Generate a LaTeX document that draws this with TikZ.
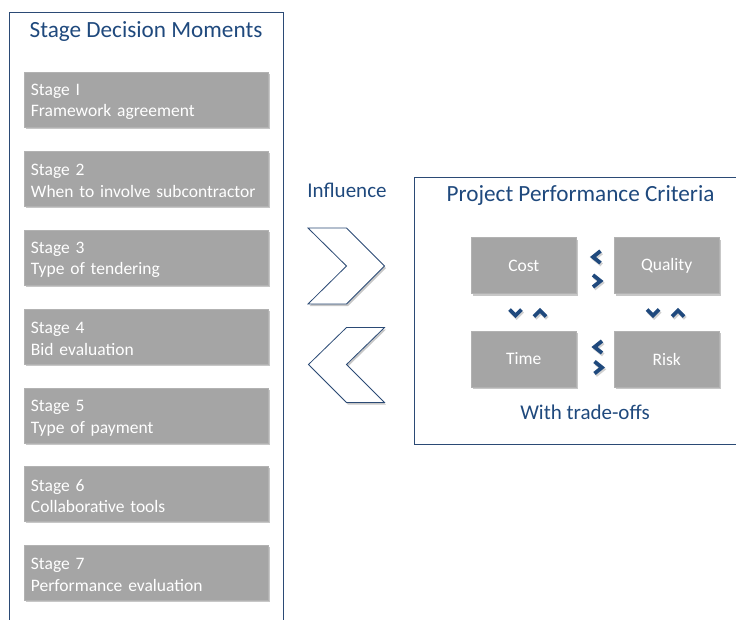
\documentclass[tikz,border=0pt]{standalone}
\usepackage{fontspec}
\setmainfont{Carlito}
\usetikzlibrary{shadows}
\definecolor{navy}{HTML}{1F497D}
\definecolor{framecol}{HTML}{2B4A75}
\definecolor{boxgray}{HTML}{A5A5A5}
\begin{document}
\begin{tikzpicture}[x=1pt,y=-1pt,
  softshadow/.style={drop shadow={shadow xshift=1.5pt, shadow yshift=-2pt, opacity=0.22, fill=black}},
  stagebox/.style={fill=boxgray, draw=boxgray!85!white, line width=0.5pt,
    minimum width=244pt, minimum height=55pt, inner sep=0pt, softshadow},
  stagetext/.style={anchor=west, text width=230pt, align=left, inner xsep=7pt, inner ysep=0pt,
    text=white, font=\fontsize{17.5}{21.5}\selectfont},
  critbox/.style={fill=boxgray, draw=boxgray!85!white, line width=0.5pt,
    minimum width=105pt, minimum height=56pt, text=white,
    font=\fontsize{17.5}{20}\selectfont, softshadow},
  titletext/.style={text=navy, font=\fontsize{23.2}{27}\selectfont, inner sep=0pt},
  labeltext/.style={text=navy, font=\fontsize{21}{25}\selectfont, inner sep=0pt},
  framestyle/.style={draw=framecol, line width=0.8pt},
  bigchev/.style={draw=framecol, fill=white, line width=0.8pt, line join=miter, softshadow},
  smallchev/.style={draw=navy, line width=3.8pt, line join=miter, line cap=butt},
  chevshadow/.style={draw=black, opacity=0.18, line width=3.8pt, line join=miter, line cap=butt}
]
\useasboundingbox (0,0) rectangle (736,619);
\clip (0,0) rectangle (736,619);

% left frame
\draw[framestyle] (9,630) -- (9,12) -- (283,12) -- (283,630);
\node[titletext] (ltitle) at (146,32) {Stage Decision Moments};

\node[stagebox] (s1) at (146,99.5) {};
\node[stagebox] (s2) at (146,178.5) {};
\node[stagebox] (s3) at (146,257.5) {};
\node[stagebox] (s4) at (146,336.5) {};
\node[stagebox] (s5) at (146,415.5) {};
\node[stagebox] (s6) at (146,493.5) {};
\node[stagebox] (s7) at (146,572.5) {};
\node[stagetext] (t1) at ([yshift=-2.5pt]s1.west) {Stage I\\Framework agreement};
\node[stagetext] (t2) at ([yshift=-2.5pt]s2.west) {Stage 2\\When to involve subcontractor};
\node[stagetext] (t3) at ([yshift=-2.5pt]s3.west) {Stage 3\\Type of tendering};
\node[stagetext] (t4) at ([yshift=-2.5pt]s4.west) {Stage 4\\Bid evaluation};
\node[stagetext] (t5) at ([yshift=-2.5pt]s5.west) {Stage 5\\Type of payment};
\node[stagetext] (t6) at ([yshift=-2.5pt]s6.west) {Stage 6\\Collaborative tools};
\node[stagetext] (t7) at ([yshift=-2.5pt]s7.west) {Stage 7\\Performance evaluation};

% influence
\node[labeltext] (infl) at (347,190) {Influence};
\draw[bigchev] (308,228) -- (346.5,228) -- (384.5,266) -- (346.5,304) -- (308,304) -- (346.5,266) -- cycle;
\draw[bigchev] (384.5,327.5) -- (346.5,327.5) -- (308.5,364.5) -- (346.5,402.5) -- (384.5,402.5) -- (346.5,364.5) -- cycle;

% right frame
\draw[framestyle] (745,177) -- (414,177) -- (414,444) -- (745,444);
\node[titletext] (rtitle) at (580.5,196) {Project Performance Criteria};

\node[critbox] (cost) at (523.8,265.5) {Cost};
\node[critbox] (quality) at (666.7,265.5) {Quality};
\node[critbox] (time) at (523.8,359) {Time};
\node[critbox] (risk) at (666.7,359) {Risk};

\node[labeltext] (trade) at (585,412.5) {With trade-offs};

% small chevrons: shadows
\begin{scope}[shift={(1.2,1.8)}]
\draw[chevshadow] (600.5,251) -- (593,257) -- (600.5,263);
\draw[chevshadow] (593,275) -- (600.5,281) -- (593,287);
\draw[chevshadow] (602,341) -- (594.5,347) -- (602,353);
\draw[chevshadow] (594.5,361.5) -- (602,367.5) -- (594.5,373.5);
\draw[chevshadow] (509.5,309.5) -- (515.5,315.5) -- (521.5,309.5);
\draw[chevshadow] (534,316.5) -- (540,310.5) -- (546,316.5);
\draw[chevshadow] (647,309.5) -- (653,315.5) -- (659,309.5);
\draw[chevshadow] (672,316.5) -- (678,310.5) -- (684,316.5);
\end{scope}
% small chevrons
\draw[smallchev] (600.5,251) -- (593,257) -- (600.5,263);
\draw[smallchev] (593,275) -- (600.5,281) -- (593,287);
\draw[smallchev] (602,341) -- (594.5,347) -- (602,353);
\draw[smallchev] (594.5,361.5) -- (602,367.5) -- (594.5,373.5);
\draw[smallchev] (509.5,309.5) -- (515.5,315.5) -- (521.5,309.5);
\draw[smallchev] (534,316.5) -- (540,310.5) -- (546,316.5);
\draw[smallchev] (647,309.5) -- (653,315.5) -- (659,309.5);
\draw[smallchev] (672,316.5) -- (678,310.5) -- (684,316.5);
\end{tikzpicture}
\end{document}
